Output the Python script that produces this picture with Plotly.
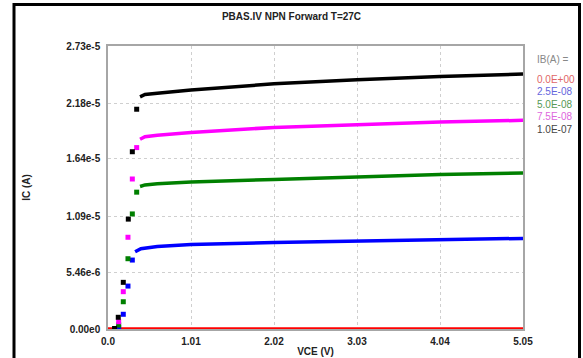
import plotly.graph_objects as go

# ---- data ----
ib_labels = ["0.0E+00", "2.5E-08", "5.0E-08", "7.5E-08", "1.0E-07"]
series_colors = ["#ff0000", "#0000ff", "#008000", "#ff00ff", "#000000"]
legend_colors = ["#e06666", "#6666dd", "#559955", "#dd66dd", "#444444"]

# steep (knee) region, sparse points drawn as squares
knee_vce = {
    "2.5E-08": [0.13, 0.186, 0.243, 0.296],
    "5.0E-08": [0.13, 0.186, 0.243, 0.296, 0.349],
    "7.5E-08": [0.13, 0.186, 0.243, 0.296, 0.349],
    "1.0E-07": [0.08, 0.125, 0.186, 0.247, 0.296, 0.349],
}
knee_ic = {
    "2.5E-08": [0.15e-6, 1.42e-6, 4.14e-6, 6.65e-6],
    "5.0E-08": [0.38e-6, 2.63e-6, 6.78e-6, 1.11e-5, 1.32e-5],
    "7.5E-08": [0.70e-6, 3.60e-6, 8.85e-6, 1.447e-5, 1.75e-5],
    "1.0E-07": [0.05e-6, 1.13e-6, 4.50e-6, 1.06e-5, 1.71e-5, 2.12e-5],
}
# saturation region, dense measurement drawn as a thick line
sat_vce = {
    "0.0E+00": [-0.04, 5.05],
    "2.5E-08": [0.33, 0.40, 0.60, 1.01, 2.02, 3.03, 4.04, 5.05],
    "5.0E-08": [0.39, 0.45, 0.60, 1.01, 2.02, 3.03, 4.04, 5.05],
    "7.5E-08": [0.39, 0.45, 0.60, 1.01, 2.02, 3.03, 4.04, 5.05],
    "1.0E-07": [0.39, 0.45, 0.60, 1.01, 2.02, 3.03, 4.04, 5.05],
}
sat_ic = {
    "0.0E+00": [0.0, 0.0],
    "2.5E-08": [7.45e-6, 7.75e-6, 7.95e-6, 8.15e-6, 8.35e-6, 8.48e-6, 8.60e-6, 8.74e-6],
    "5.0E-08": [1.375e-5, 1.39e-5, 1.40e-5, 1.418e-5, 1.442e-5, 1.467e-5, 1.49e-5, 1.506e-5],
    "7.5E-08": [1.83e-5, 1.855e-5, 1.87e-5, 1.895e-5, 1.945e-5, 1.975e-5, 1.997e-5, 2.013e-5],
    "1.0E-07": [2.24e-5, 2.262e-5, 2.275e-5, 2.305e-5, 2.365e-5, 2.405e-5, 2.435e-5, 2.46e-5],
}

x_ticks = [0.0, 1.01, 2.02, 3.03, 4.04, 5.05]
x_tick_text = ["0.0", "1.01", "2.02", "3.03", "4.04", "5.05"]
y_ticks = [0.0, 5.46e-6, 1.09e-5, 1.64e-5, 2.18e-5, 2.73e-5]
y_tick_text = ["0.00e0", "5.46e-6", "1.09e-5", "1.64e-5", "2.18e-5", "2.73e-5"]

FONT = "Arial, Liberation Sans, sans-serif"

fig = go.Figure()
for lab, col in zip(ib_labels, series_colors):
    fig.add_trace(go.Scatter(
        x=sat_vce[lab], y=sat_ic[lab], mode="lines",
        line=dict(color=col, width=3.5),
        cliponaxis=False, showlegend=False, hoverinfo="skip"))
    if lab in knee_vce:
        fig.add_trace(go.Scatter(
            x=knee_vce[lab], y=knee_ic[lab], mode="markers",
            marker=dict(symbol="square", size=5, color=col, line=dict(width=0)),
            cliponaxis=False, showlegend=False, hoverinfo="skip"))

axis_common = dict(
    showline=True, linecolor="#a6a6a6", linewidth=1.5, mirror=True,
    showgrid=True, gridcolor="#cfcfcf", griddash="dot", gridwidth=1,
    zeroline=False, ticks="", automargin=False,
    tickfont=dict(family=FONT, size=10, color="#222222"),
)

fig.update_layout(
    width=583, height=358,
    margin=dict(l=108, r=60, t=46, b=29),
    paper_bgcolor="white", plot_bgcolor="white",
    title=dict(text="<b>PBAS.IV NPN Forward T=27C</b>", x=0.5, xanchor="center",
               y=1 - 16 / 358, yanchor="middle",
               font=dict(family=FONT, size=10, color="#222222")),
    xaxis=dict(range=[0, 5.05], tickvals=x_ticks,
               ticktext=["<b>%s</b>" % t for t in x_tick_text],
               ticklabelstandoff=2,
               title=dict(text="<b>VCE (V)</b>", standoff=2,
                          font=dict(family=FONT, size=10, color="#222222")),
               **axis_common),
    yaxis=dict(range=[0, 2.73e-5], tickvals=y_ticks,
               ticktext=["<b>%s</b>" % t for t in y_tick_text],
               ticklabelstandoff=4,
               title=dict(text="<b>IC (A)</b>", standoff=34,
                          font=dict(family=FONT, size=10, color="#222222")),
               **axis_common),
)

# legend as text annotations
plot_h = 358 - 46 - 29
plot_w = 583 - 108 - 60
def px_to_paper(xp, yp):
    return (xp - 108) / plot_w, (329 - yp) / plot_h

lx, ly = px_to_paper(535, 59)
fig.add_annotation(x=lx, y=ly, xref="paper", yref="paper", text="IB(A) =",
                   showarrow=False, xanchor="left", yanchor="middle",
                   font=dict(family=FONT, size=10, color="#888888"))
for i, (lab, col) in enumerate(zip(ib_labels, legend_colors)):
    ax, ay = px_to_paper(535, 79 + i * 12.5)
    fig.add_annotation(x=ax, y=ay, xref="paper", yref="paper", text=lab,
                       showarrow=False, xanchor="left", yanchor="middle",
                       font=dict(family=FONT, size=10, color=col))

# outer black frame
x0, _ = px_to_paper(14, 0)
x1, _ = px_to_paper(579.5, 0)
_, y1 = px_to_paper(0, 4.5)
_, y0 = px_to_paper(0, 400)
fig.add_shape(type="rect", xref="paper", yref="paper", x0=x0, x1=x1, y0=y0, y1=y1,
              line=dict(color="black", width=3), layer="above")

fig.write_html("out.html", config={"displayModeBar": False},
               post_script="document.body.style.margin='0';document.body.style.overflow='hidden';")
